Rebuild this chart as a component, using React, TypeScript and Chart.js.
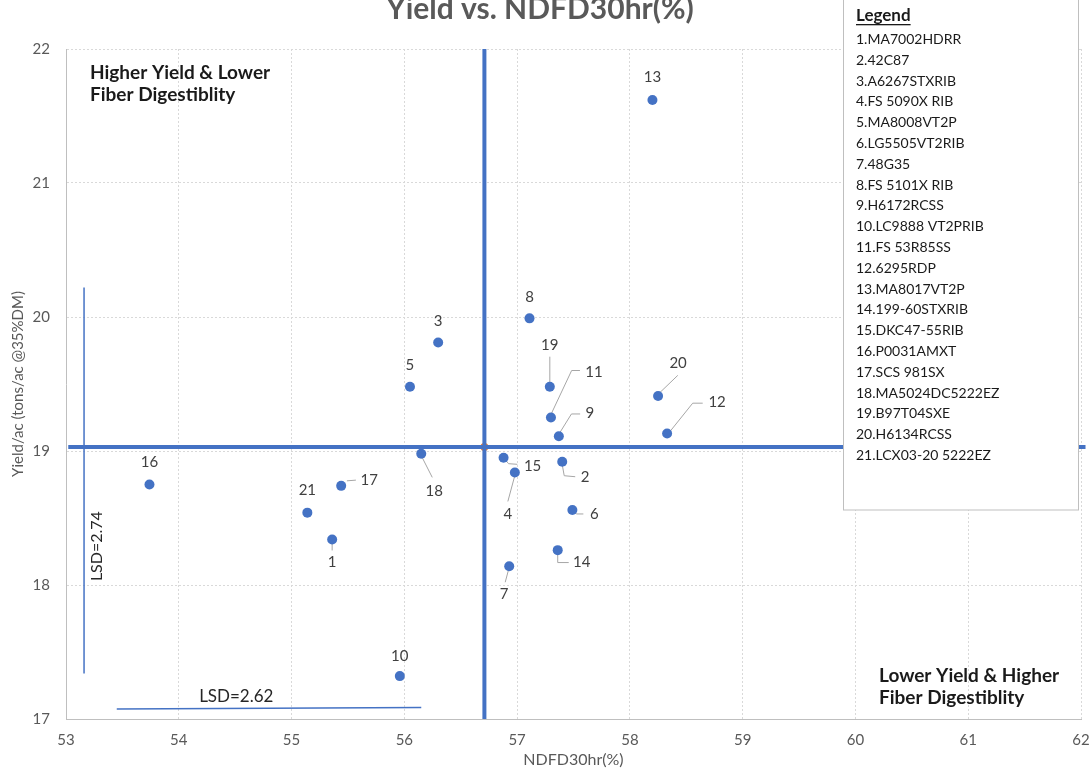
import React, { useEffect, useRef } from "react";
import { Chart, registerables } from "chart.js";

Chart.register(...registerables);

const FONT = "Lato, 'Open Sans', 'DejaVu Sans', sans-serif";

// ---- data ----
const chartTitle = "Yield vs. NDFD30hr(%)";
const xAxisTitle = "NDFD30hr(%)";
const yAxisTitle = "Yield/ac (tons/ac @35%DM)";

const pointIds = [1, 2, 3, 4, 5, 6, 7, 8, 9, 10, 11, 12, 13, 14, 15, 16, 17, 18, 19, 20, 21];
const hybridNames = [
  "MA7002HDRR",
  "42C87",
  "A6267STXRIB",
  "FS 5090X RIB",
  "MA8008VT2P",
  "LG5505VT2RIB",
  "48G35",
  "FS 5101X RIB",
  "H6172RCSS",
  "LC9888 VT2PRIB",
  "FS 53R85SS",
  "6295RDP",
  "MA8017VT2P",
  "199-60STXRIB",
  "DKC47-55RIB",
  "P0031AMXT",
  "SCS 981SX",
  "MA5024DC5222EZ",
  "B97T04SXE",
  "H6134RCSS",
  "LCX03-20 5222EZ",
];
const ndfd30 = [
  55.36, 57.4, 56.3, 56.98, 56.05, 57.49, 56.93, 57.11, 57.37, 55.96, 57.3,
  58.33, 58.2, 57.36, 56.88, 53.74, 55.44, 56.15, 57.29, 58.25, 55.14,
];
const yieldTons = [
  18.34, 18.92, 19.81, 18.84, 19.48, 18.56, 18.14, 19.99, 19.11, 17.32, 19.25,
  19.13, 21.62, 18.26, 18.95, 18.75, 18.74, 18.98, 19.48, 19.41, 18.54,
];

const xMin = 53;
const xMax = 62;
const yMin = 17;
const yMax = 22;

const meanNdfd = 56.71;
const meanYield = 19.03;
const meanHLineX = [53.02, 62.04];
const meanVLineY = [17, 22];

const lsdYieldX = 53.16;
const lsdYieldY = [17.34, 20.22];
const lsdYieldText = "LSD=2.74";
const lsdYieldTextY = 18.29;

const lsdNdfdX = [53.45, 56.15];
const lsdNdfdY = [17.075, 17.085];
const lsdNdfdText = "LSD=2.62";
const lsdNdfdTextX = 54.51;

const quadrantTopLeft = ["Higher Yield & Lower", "Fiber Digestiblity"];
const quadrantBottomRight = ["Lower Yield & Higher", "Fiber Digestiblity"];

// label offsets (px, relative to each point) and leader paths
const labelOffsets: [number, number][] = [
  [0, 23], [23, 15], [0, -21], [-7, 42], [0, -22], [22, 4], [-5, 28],
  [0, -21], [31, -23], [0, -20], [43, -45], [50, -31], [0, -23], [24, 12],
  [29, 8], [0, -22], [28, -6], [13, 37], [0, -42], [20, -33], [0, -22],
];
const leaderPaths: ([number, number][] | null)[] = [
  [[0, 3], [0, 11]],
  [[0, 3], [2, 14], [13, 15]],
  null,
  [[0, 3], [-7, 29]],
  null,
  [[0, 0], [4, 4], [11, 4]],
  [[0, 1], [-4, 16]],
  null,
  [[0, -2], [12.6, -22.3], [21.3, -22.3]],
  null,
  [[0, -3], [20.7, -47], [29, -47]],
  [[2, -1], [25.6, -30.4], [35.6, -30.4]],
  null,
  [[0, 0], [0, 12.4], [11, 12.4]],
  [[0, 0], [5, 6], [13.7, 6.6]],
  null,
  [[5.7, -5], [14.7, -5.7]],
  [[0, 2], [11, 23.7]],
  [[0, -4], [0, -30]],
  [[2, -3.7], [19.7, -20.7]],
  null,
];

const BLUE = "#4472C4";

const leaderPlugin = {
  id: "leaders",
  beforeDatasetsDraw(chart: any) {
    const ctx = chart.ctx;
    const meta = chart.getDatasetMeta(0);
    ctx.save();
    ctx.strokeStyle = "#a6a6a6";
    ctx.lineWidth = 1;
    meta.data.forEach((pt: any, i: number) => {
      const path = leaderPaths[i];
      if (!path) return;
      const { x, y } = pt.getProps(["x", "y"], true);
      ctx.beginPath();
      path.forEach(([dx, dy], k) => {
        if (k === 0) ctx.moveTo(x + dx, y + dy);
        else ctx.lineTo(x + dx, y + dy);
      });
      ctx.stroke();
    });
    ctx.restore();
  },
  afterDatasetsDraw(chart: any) {
    const ctx = chart.ctx;
    const meta = chart.getDatasetMeta(0);
    ctx.save();
    ctx.fillStyle = "#404040";
    ctx.font = `15px ${FONT}`;
    ctx.textAlign = "center";
    ctx.textBaseline = "middle";
    meta.data.forEach((pt: any, i: number) => {
      const { x, y } = pt.getProps(["x", "y"], true);
      const [ox, oy] = labelOffsets[i];
      ctx.fillText(String(pointIds[i]), x + ox, y + oy);
    });
    ctx.restore();
  },
};

const overlayPlugin = {
  id: "overlay",
  afterDraw(chart: any) {
    const ctx = chart.ctx;
    const { left, right, top, bottom } = chart.chartArea;
    const xs = chart.scales.x;
    const ys = chart.scales.y;
    ctx.save();

    // title
    ctx.fillStyle = "#595959";
    ctx.font = `bold 30px ${FONT}`;
    ctx.textAlign = "center";
    ctx.textBaseline = "alphabetic";
    ctx.fillText(chartTitle, 540, 19);

    // quadrant texts
    ctx.fillStyle = "#1a1a1a";
    ctx.font = `bold 19px ${FONT}`;
    ctx.textAlign = "left";
    ctx.textBaseline = "middle";
    ctx.fillText(quadrantTopLeft[0], left + 24, top + 24);
    ctx.fillText(quadrantTopLeft[1], left + 24, top + 46);
    ctx.fillText(quadrantBottomRight[0], right - 202, bottom - 43);
    ctx.fillText(quadrantBottomRight[1], right - 202, bottom - 21);

    // LSD texts
    ctx.fillStyle = "#262626";
    ctx.font = `16px ${FONT}`;
    ctx.save();
    ctx.translate(xs.getPixelForValue(lsdYieldX) + 13, ys.getPixelForValue(lsdYieldTextY));
    ctx.rotate(-Math.PI / 2);
    ctx.textAlign = "center";
    ctx.textBaseline = "middle";
    ctx.fillText(lsdYieldText, 0, 0);
    ctx.restore();
    ctx.font = `17px ${FONT}`;
    ctx.textAlign = "center";
    ctx.textBaseline = "middle";
    ctx.fillText(lsdNdfdText, xs.getPixelForValue(lsdNdfdTextX), ys.getPixelForValue(lsdNdfdY[0]) - 12);

    // legend box
    const bx = right - 238;
    const bw = 235;
    ctx.fillStyle = "#ffffff";
    ctx.fillRect(bx, -2, bw, 512);
    ctx.strokeStyle = "#bfbfbf";
    ctx.lineWidth = 1;
    ctx.strokeRect(bx + 0.5, -2, bw, 512);

    ctx.fillStyle = "#1a1a1a";
    ctx.textAlign = "left";
    ctx.textBaseline = "middle";
    ctx.font = `bold 17px ${FONT}`;
    const lx = bx + 13;
    ctx.fillText("Legend", lx, 16);
    const lw = ctx.measureText("Legend").width;
    ctx.fillRect(lx, 24, lw, 1.3);
    ctx.font = `14px ${FONT}`;
    hybridNames.forEach((name, i) => {
      ctx.fillText(`${pointIds[i]}.${name}`, lx, 39.5 + i * 20.8);
    });

    ctx.restore();
  },
};

export default function App() {
  const canvasRef = useRef<HTMLCanvasElement | null>(null);

  useEffect(() => {
    if (!canvasRef.current) return;
    const points = ndfd30.map((x, i) => ({ x, y: yieldTons[i] }));
    const chart = new Chart(canvasRef.current, {
      type: "scatter",
      data: {
        datasets: [
          {
            label: "Hybrids",
            data: points,
            backgroundColor: BLUE,
            borderColor: BLUE,
            borderWidth: 0,
            pointRadius: 5,
            order: 0,
          },
          {
            label: "Mean NDFD",
            data: meanVLineY.map((y) => ({ x: meanNdfd, y })),
            showLine: true,
            borderColor: BLUE,
            borderWidth: 4,
            pointRadius: 0,
            order: 2,
          },
          {
            label: "Mean Yield",
            data: meanHLineX.map((x) => ({ x, y: meanYield })),
            showLine: true,
            borderColor: BLUE,
            borderWidth: 4,
            pointRadius: 0,
            clip: false,
            order: 2,
          },
          {
            label: "Mean",
            data: [{ x: meanNdfd, y: meanYield }],
            backgroundColor: "#ED7D31",
            borderWidth: 0,
            pointRadius: 4,
            order: 3,
          },
          {
            label: "LSD Yield",
            data: lsdYieldY.map((y) => ({ x: lsdYieldX, y })),
            showLine: true,
            borderColor: BLUE,
            borderWidth: 1.5,
            pointRadius: 0,
            order: 4,
          },
          {
            label: "LSD NDFD",
            data: lsdNdfdX.map((x, i) => ({ x, y: lsdNdfdY[i] })),
            showLine: true,
            borderColor: BLUE,
            borderWidth: 1.5,
            pointRadius: 0,
            order: 4,
          },
        ],
      },
      options: {
        animation: false,
        responsive: true,
        maintainAspectRatio: false,
        layout: { padding: { top: 49, right: 9, left: 0, bottom: 0 } },
        plugins: {
          legend: { display: false },
          tooltip: { enabled: false },
          title: { display: false },
        },
        scales: {
          x: {
            type: "linear",
            min: xMin,
            max: xMax,
            ticks: {
              stepSize: 1,
              color: "#595959",
              font: { family: FONT, size: 15 },
              padding: 12,
            },
            grid: { color: "#d9d9d9", drawTicks: false },
            border: { display: true, color: "#bfbfbf", width: 1, dash: [2, 2] },
            title: {
              display: true,
              text: xAxisTitle,
              color: "#595959",
              font: { family: FONT, size: 16 },
              padding: { top: 0, bottom: 0 },
            },
            afterFit(scale: any) {
              scale.height = 50;
              scale.paddingRight = 0;
              scale.paddingLeft = 0;
            },
          },
          y: {
            type: "linear",
            min: yMin,
            max: yMax,
            ticks: {
              stepSize: 1,
              color: "#595959",
              font: { family: FONT, size: 15 },
              padding: 16,
            },
            grid: { color: "#d9d9d9", drawTicks: false },
            border: { display: true, color: "#bfbfbf", width: 1, dash: [2, 2] },
            title: {
              display: true,
              text: yAxisTitle,
              color: "#595959",
              font: { family: FONT, size: 15 },
              padding: { top: 9, bottom: 0 },
            },
            afterFit(scale: any) {
              scale.width = 66;
              scale.paddingTop = 0;
              scale.paddingBottom = 0;
            },
          },
        },
      },
      plugins: [leaderPlugin, overlayPlugin],
    });
    return () => chart.destroy();
  }, []);

  return (
    <div
      style={{
        position: "absolute",
        left: 0,
        top: 0,
        width: 1090,
        height: 769,
        overflow: "hidden",
        background: "#ffffff",
      }}
    >
      <canvas ref={canvasRef} style={{ display: "block" }} />
    </div>
  );
}
